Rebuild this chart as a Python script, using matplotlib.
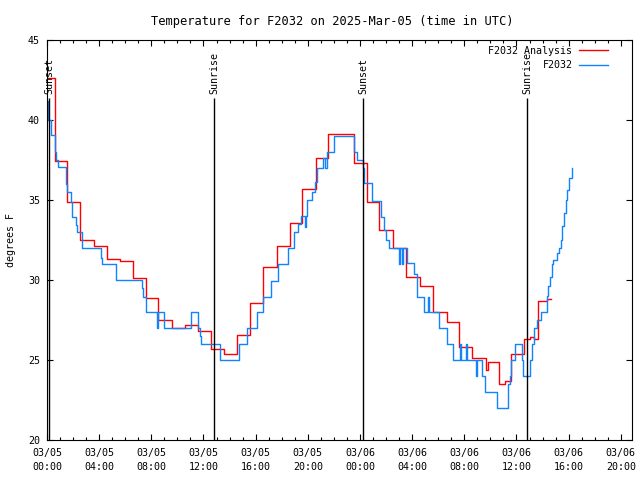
import numpy as np
import matplotlib
matplotlib.use('Agg')
import matplotlib.pyplot as plt
from matplotlib.ticker import MultipleLocator

plt.rcParams['font.family'] = ['DejaVu Sans Mono']
plt.rcParams['font.size'] = 7.2

# hours since 03/05 00:00 UTC where each value starts (step data)
ana_hours = [0.00, 0.59, 1.56, 2.53, 3.60, 4.62, 5.60, 6.56, 7.57, 8.54, 9.56,
             10.58, 11.60, 12.55, 13.60, 14.59, 15.57, 16.59, 17.62, 18.64,
             19.58, 20.63, 21.57, 23.57, 24.56, 25.49, 26.56, 27.53, 28.61,
             29.62, 30.65, 31.62, 32.62, 33.65, 33.85, 34.64, 35.12, 35.58,
             36.60, 37.04, 37.37, 37.63, 38.32, 38.63]
ana_temp = [42.6, 37.45, 34.9, 32.5, 32.15, 31.3, 31.2, 30.1, 28.85, 27.5, 27.0,
            27.2, 26.8, 25.7, 25.35, 26.55, 28.55, 30.8, 32.15, 33.55,
            35.7, 37.65, 39.15, 37.3, 34.9, 33.1, 32.0, 30.2, 29.6,
            28.0, 27.35, 25.8, 25.15, 24.4, 24.9, 23.5, 23.7, 25.4,
            26.3, 26.45, 26.3, 28.7, 28.8, 28.8]

obs_hours = [0.00, 0.04, 0.08, 0.28, 0.59, 0.69, 0.87, 1.43, 1.56, 1.82, 1.94,
             2.22, 2.28, 2.71, 4.14, 4.24, 5.29, 7.26, 7.39, 7.59, 8.46, 8.54,
             8.97, 11.07, 11.56, 11.60, 11.73, 11.81, 13.27, 14.75, 15.36,
             16.13, 16.59, 17.18, 17.74, 18.46, 18.96, 19.27, 19.46, 19.79,
             19.86, 19.92, 20.35, 20.55, 20.73, 21.19, 21.34, 21.45, 22.03,
             23.54, 23.80, 24.26, 24.31, 24.90, 25.59, 25.84, 26.00, 26.25,
             27.02, 27.10, 27.25, 27.32, 27.58, 28.14, 28.40, 28.93, 29.24,
             29.32, 30.08, 30.70, 31.16, 31.67, 31.75, 32.13, 32.21, 32.90,
             32.95, 33.34, 33.59, 34.49, 35.38, 35.48, 35.58, 35.89, 36.40,
             36.52, 37.04, 37.19, 37.37, 37.60, 37.88, 38.32, 38.44, 38.57,
             38.70, 38.82, 39.08, 39.26, 39.39, 39.52, 39.65, 39.78, 39.90,
             40.06, 40.29]
obs_temp = [41.2, 40.6, 40.0, 39.05, 38.0, 37.5, 37.05, 36.0, 35.5, 34.9, 33.95,
            33.45, 33.0, 32.0, 31.35, 31.0, 30.0, 29.5, 28.95, 28.0, 27.0, 28.0,
            27.0, 28.0, 27.5, 27.0, 26.5, 26.0, 25.0, 26.0, 27.0,
            28.0, 28.95, 29.95, 31.0, 32.0, 33.0, 33.5, 34.0, 33.3,
            34.0, 35.0, 35.5, 36.1, 37.0, 37.65, 37.0, 38.0, 39.0,
            38.0, 37.5, 37.0, 36.05, 34.95, 33.95, 33.1, 32.5, 32.0,
            31.0, 32.0, 31.0, 32.0, 31.05, 30.4, 28.95, 28.0, 28.95,
            28.0, 27.0, 26.0, 25.0, 26.0, 25.0, 26.0, 25.0, 24.0,
            25.0, 24.0, 23.0, 22.0, 23.5, 24.0, 25.0, 26.0, 25.0,
            24.0, 25.0, 26.0, 27.0, 27.5, 28.0, 29.0, 29.6, 30.2,
            31.0, 31.25, 31.67, 32.0, 32.5, 33.4, 34.2, 35.0, 35.6,
            36.35, 37.0]

sun_hours = [0.18, 12.80, 24.23, 36.80]
sun_labels = ['Sunset', 'Sunrise', 'Sunset', 'Sunrise']

tick_labels = ['03/05\n00:00', '03/05\n04:00', '03/05\n08:00', '03/05\n12:00',
               '03/05\n16:00', '03/05\n20:00', '03/06\n00:00', '03/06\n04:00',
               '03/06\n08:00', '03/06\n12:00', '03/06\n16:00', '03/06\n20:00']

fig = plt.figure(figsize=(6.4, 4.8), dpi=100)
ax = fig.add_axes([47 / 640, 40 / 480, 585 / 640, 400 / 480])

ax.step(ana_hours, ana_temp, where='post', color='#ff0000', lw=1.0,
        label='F2032 Analysis')
ax.step(obs_hours, obs_temp, where='post', color='#1084ff', lw=1.0,
        label='F2032')

# sunrise / sunset markers
for h, lab in zip(sun_hours, sun_labels):
    ax.vlines(h, 20, 41.35, color='black', lw=1.0)
    ax.text(h, 41.65, lab, rotation=90, ha='center', va='bottom')

ax.set_xlim(0, 44.86)
ax.set_ylim(20, 45)
ax.set_xticks(np.arange(0, 45, 4))
ax.set_xticklabels(tick_labels, linespacing=1.45)
ax.xaxis.set_minor_locator(MultipleLocator(1))
ax.yaxis.set_major_locator(MultipleLocator(5))
ax.tick_params(which='both', direction='in', top=True, right=True, width=0.8)
ax.tick_params(which='major', length=4, pad=5)
ax.tick_params(axis='x', which='major', pad=6)
ax.tick_params(which='minor', length=2)
for s in ax.spines.values():
    s.set_linewidth(0.8)

ax.set_title('Temperature for F2032 on 2025-Mar-05 (time in UTC)', pad=11, x=0.488)
ax.set_ylabel('degrees F', labelpad=9)

ax.legend(loc='upper right', frameon=False, markerfirst=False,
          handlelength=2.9, labelspacing=0.45, borderaxespad=0.2,
          handletextpad=0.7, bbox_to_anchor=(0.97, 1.0))

plt.savefig('out.png', dpi=100)
